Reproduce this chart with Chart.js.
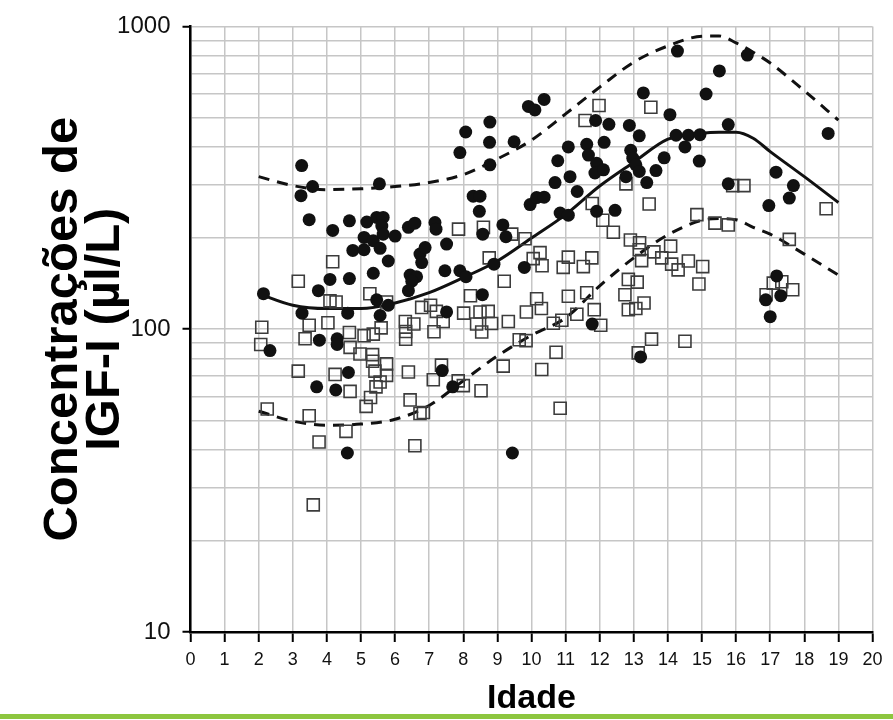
<!DOCTYPE html>
<html>
<head>
<meta charset="utf-8">
<script src="https://cdn.jsdelivr.net/npm/chart.js@4.4.1/dist/chart.umd.min.js"></script>
<style>
  html, body { margin: 0; padding: 0; background: #fff; }
  #wrap { position: relative; width: 893px; height: 720px; }
  #bar { position: absolute; left: 0; top: 714px; width: 893px; height: 5px; background: #8dc63f; }
</style>
</head>
<body>
<div id="wrap">
  <canvas id="igfChart" width="893" height="720"></canvas>
  <div id="bar"></div>
</div>
<script>
// filled circles
const circleAge = [2.14,2.33,3.26,3.58,3.24,3.48,3.27,3.75,3.78,3.70,
  4.17,4.09,4.30,4.30,4.26,4.66,4.66,4.61,4.63,4.60,
  4.76,5.17,5.09,5.09,5.36,5.46,5.65,5.61,5.65,5.54,
  5.56,5.80,5.36,5.46,5.80,5.56,6.00,6.39,6.58,6.73,
  6.88,6.78,6.44,6.63,6.49,6.39,7.17,7.20,7.51,7.46,
  7.51,7.38,7.69,7.90,8.07,7.90,8.08,8.29,8.49,8.47,
  8.57,8.56,8.78,8.77,8.78,8.90,9.16,9.25,9.49,9.44,
  9.79,9.91,10.10,10.37,9.96,10.15,10.37,10.77,10.69,10.84,
  11.08,11.08,11.13,11.34,11.62,11.67,11.91,11.86,12.11,11.88,
  12.27,12.13,11.91,12.45,11.78,12.87,13.16,12.91,12.97,13.06,
  12.77,13.16,13.38,13.28,13.65,13.89,14.06,14.28,14.24,14.60,
  14.50,14.94,14.92,15.12,15.51,15.77,15.77,16.33,17.17,17.68,
  17.56,16.96,17.19,16.87,17.31,17.00,18.70,13.20];
const circleIgf = [131,85,347,296,276,230,113,134,92,64.5,
  212,146,93,89,63,228,147,113,72,39,
  182,226,201,183,196,234,234,219,206,302,
  185,168,153,125,120,111,203,217,224,177,
  186,166,151,149,144,134,225,214,191,156,
  114,73,64.5,383,448,156,149,275,275,245,
  206,130,483,414,349,164,221,202,416,39,
  160,544,530,574,258,272,273,360,305,242,
  238,400,319,285,408,376,353,328,336,489,
  475,414,245,247,104,471,435,390,367,349,
  319,332,305,603,334,368,511,829,437,437,
  400,439,359,598,713,474,302,804,330,298,
  271,256,150,125,129,110,443,81];

// open squares
const squareAge = [2.09,2.06,2.25,3.16,3.16,3.48,3.36,3.48,3.77,3.60,
  4.17,4.09,4.27,4.03,4.24,4.66,4.68,4.68,4.56,5.09,
  4.97,5.26,5.36,5.59,5.34,5.34,5.75,5.41,5.75,5.56,
  5.44,5.28,5.15,5.75,6.30,6.55,6.31,6.31,6.78,6.39,
  6.44,6.73,6.58,7.04,7.21,7.41,7.14,7.12,7.36,6.83,
  7.86,7.85,8.00,8.01,8.21,8.59,8.76,8.49,8.73,8.39,
  8.54,8.83,8.52,9.42,9.81,9.20,9.32,9.17,9.64,9.84,
  9.85,10.25,10.05,10.31,10.15,10.29,10.30,10.72,10.84,11.08,
  10.93,11.77,11.52,11.08,11.62,11.33,10.89,10.64,11.84,12.03,
  11.78,12.09,12.40,11.98,11.57,12.77,13.50,13.45,12.90,13.17,
  13.16,13.59,13.82,14.08,13.23,14.11,14.30,14.60,15.02,14.91,
  12.84,13.10,12.74,12.84,13.06,13.30,13.52,14.50,13.13,14.85,
  15.38,15.77,15.90,16.23,17.56,18.64,17.09,17.34,17.66,16.88];
const squareIgf = [101.5,89,54.5,144,72.7,103,93,51.8,42.4,26.3,
  167,124,123,105,70.9,97.5,87.1,62.3,46,95.2,
  82.8,131,96.3,101,82.4,78.4,76.8,72.7,70.4,66.9,
  64.5,59.5,55.6,123,106,104,98.3,92.7,118,72.2,
  58.4,52.7,41.2,120,114.5,106,98.1,68.1,76.1,53.1,
  214,67.5,65.1,113,129,217,172,114,114.5,104,
  97.9,104.4,62.6,206,199,144,106,75.5,92.3,91.7,
  114,179,171,162,126,117,73.6,83.9,54.8,173,
  160,172,161,128.5,132,112,107,104.6,116,103,
  260,229,209,548,489,302,541,259,197,193,
  183,180,172,188,168.5,164,157,168,161,141,
  146,143,130,116,117,122,92.7,91.2,83.5,239,
  224,221,298,298,198,250,142,143.5,135,130];

// reference curves
const curveAge = [2,3,4,5,6,7,8,9,10,11,12,13,14,15,15.5,16,16.5,17,18,19];
const medianIgf = [131,120,117,117,122,132,148,168,200,239,297,356,424,444,447,447,427,386,319,262];
const upperIgf = [319,298,289,291,296,305,324,365,421,514,630,762,862,928,930,882,822,757,613,490];
const lowerIgf = [53.6,49.7,48.2,48.6,50.4,56,67.6,81.6,95.5,109,139,172,205,229,232,230,217,206,177,151];

// axis ticks
const yGridValues = [10,20,30,40,50,60,70,80,90,100,200,300,400,500,600,700,800,900,1000];
const yLabelValues = [10,100,1000];

const FONT = "'Liberation Sans', Arial, sans-serif";
const toPoints = (xs, ys) => xs.map((x, i) => ({ x: x, y: ys[i] }));

function curve(values, dashed) {
  return {
    data: toPoints(curveAge, values),
    showLine: true,
    borderColor: '#111',
    borderWidth: 3,
    borderDash: dashed ? [11, 8] : [],
    pointRadius: 0,
    cubicInterpolationMode: 'monotone',
    order: 3
  };
}

const ctx = document.getElementById('igfChart').getContext('2d');
new Chart(ctx, {
  type: 'scatter',
  data: {
    datasets: [
      {
        data: toPoints(circleAge, circleIgf),
        pointStyle: 'circle',
        pointRadius: 6.5,
        backgroundColor: '#111',
        borderColor: '#111',
        borderWidth: 0,
        order: 1
      },
      {
        data: toPoints(squareAge, squareIgf),
        pointStyle: 'rect',
        pointRadius: 8.5,
        backgroundColor: 'rgba(0,0,0,0)',
        borderColor: '#3c3c3c',
        borderWidth: 1.6,
        order: 2
      },
      curve(medianIgf, false),
      curve(upperIgf, true),
      curve(lowerIgf, true)
    ]
  },
  options: {
    responsive: false,
    animation: false,
    layout: { padding: { top: 20, right: 20.5, bottom: 0, left: 0 } },
    plugins: { legend: { display: false }, tooltip: { enabled: false } },
    scales: {
      x: {
        type: 'linear',
        min: 0,
        max: 20,
        ticks: { stepSize: 1, padding: 7, color: '#111', font: { family: FONT, size: 18 } },
        grid: { color: '#c6c6c6', lineWidth: 1.5, tickColor: '#000', tickLength: 10, tickWidth: 2 },
        border: { color: '#000', width: 2.5 },
        title: {
          display: true,
          text: 'Idade',
          color: '#000',
          font: { family: FONT, size: 34, weight: 'bold' },
          padding: { top: 0, bottom: 1 }
        },
        afterFit: (s) => { s.height = 88; }
      },
      y: {
        type: 'logarithmic',
        min: 10,
        max: 1000,
        afterBuildTicks: (s) => { s.ticks = yGridValues.map(v => ({ value: v })); },
        ticks: {
          autoSkip: false,
          padding: 12,
          color: '#111',
          font: { family: FONT, size: 24 },
          callback: (v) => yLabelValues.includes(v) ? String(v) : ''
        },
        grid: {
          color: '#c6c6c6',
          lineWidth: 1.5,
          tickLength: 8,
          tickWidth: 2,
          tickColor: (c) => c.tick && yLabelValues.includes(c.tick.value) ? '#000' : 'rgba(0,0,0,0)'
        },
        border: { color: '#000', width: 2.5 },
        title: {
          display: true,
          text: ['Concentrações de', 'IGF-I (µl/L)'],
          color: '#000',
          font: { family: FONT, size: 49, weight: 'bold', lineHeight: 0.86 },
          padding: { top: 42, bottom: 0 }
        },
        afterFit: (s) => { s.width = 190.5; }
      }
    }
  }
});
</script>
</body>
</html>
